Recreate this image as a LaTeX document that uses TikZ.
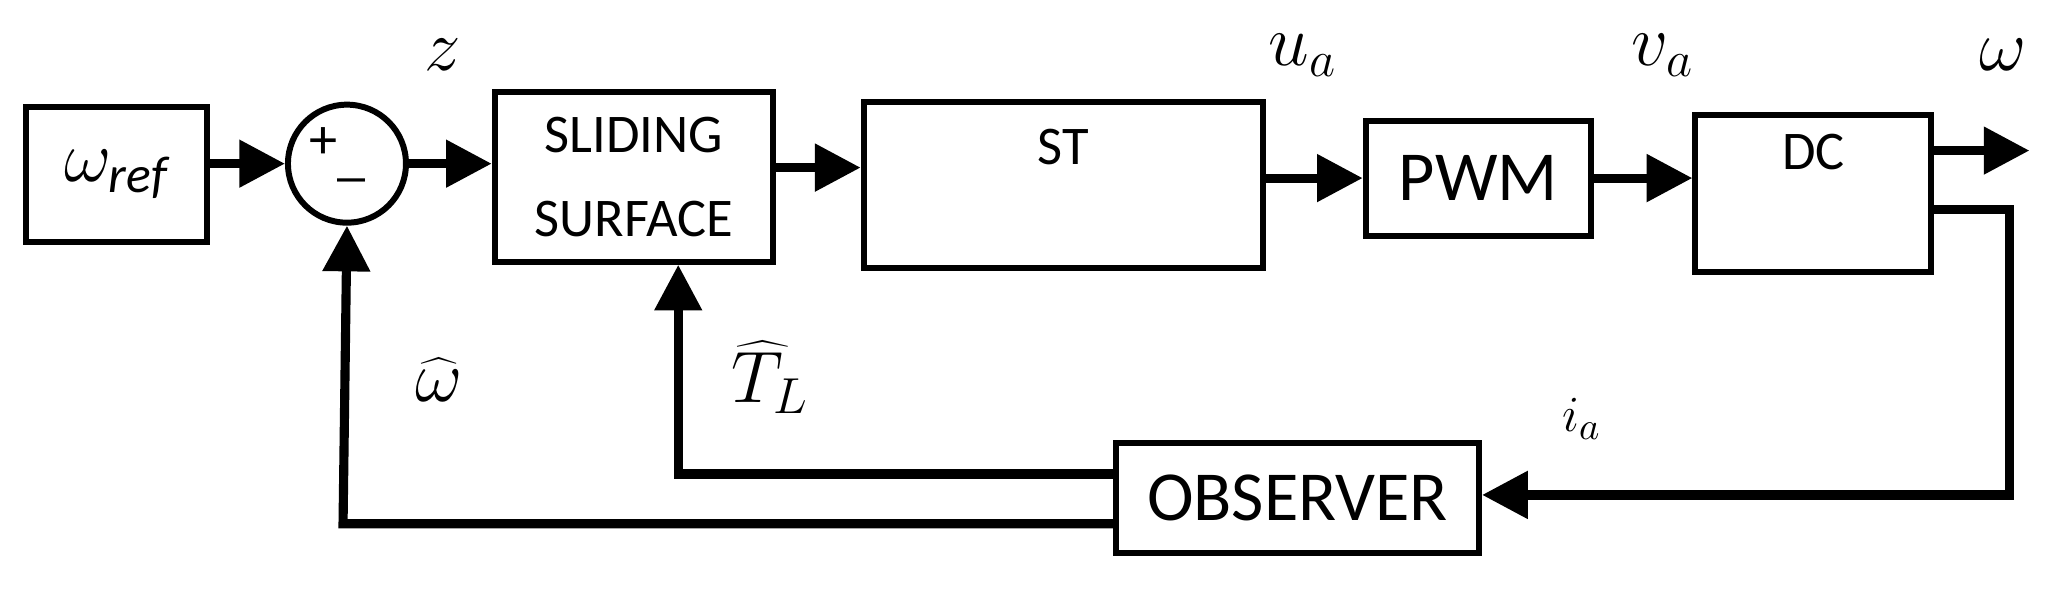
\documentclass[tikz,border=0pt]{standalone}
\usepackage{fontspec}
\setmainfont{Carlito}
\usetikzlibrary{positioning, arrows.meta}

\begin{document}
\begin{tikzpicture}[
  x=0.01309cm, y=-0.01309cm,
  block/.style={draw, line width=1.7pt, align=center, inner sep=0pt, font=\fontsize{15.5}{19}\selectfont},
  sumnode/.style={draw, circle, line width=1.7pt, minimum size=1.18cm, inner sep=0pt},
  signal/.style={line width=2.6pt, -{Triangle[length=13pt, width=13pt]}},
  lbl/.style={font=\fontsize{21}{24}\selectfont}
]
\useasboundingbox (0,0) rectangle (1568,451);

% blocks
\node[block, minimum width=1.81cm, minimum height=1.35cm, font=\fontsize{21}{24}\selectfont] (wref) at (89,133) {$\omega_{\mathit{ref}}$};
\node[sumnode] (sum) at (265,125) {};
\node[font=\fontsize{16}{16}\selectfont] at (258,118) {+\raisebox{-0.6ex}{\_}};
\node[block, minimum width=2.78cm, minimum height=1.7cm] (slide) at (484,135) {SLIDING\\[5pt]SURFACE};
\node[block, minimum width=3.99cm, minimum height=1.66cm] (st) at (812,141) {};
\node[block, minimum width=2.25cm, minimum height=1.15cm, font=\fontsize{20}{24}\selectfont] (pwm) at (1129,136) {PWM};
\node[block, minimum width=2.36cm, minimum height=1.57cm] (dc) at (1385,148) {};
\node[font=\fontsize{15.5}{19}\selectfont] at (1385,116) {DC};
\node[font=\fontsize{15.5}{19}\selectfont] at (812,112) {ST};
\node[block, minimum width=3.63cm, minimum height=1.1cm, font=\fontsize{20}{24}\selectfont] (obs) at (991,380) {OBSERVER};

% forward path
\draw[signal] (wref.east |- 0,125) -- (sum.west);
\draw[signal] (sum.east) -- (slide.west |- 0,125);
\draw[signal] (slide.east |- 0,128) -- (st.west |- 0,128);
\draw[signal] (st.east |- 0,136) -- (pwm.west);
\draw[signal] (pwm.east |- 0,136) -- (dc.west |- 0,136);
\coordinate (out) at (1550,115);
\draw[signal] (dc.east |- out) -- (out);

% feedback
\coordinate (c1) at (1535,160);
\coordinate (c2) at (1535,378);
\draw[signal] (dc.east |- c1) -- (c1) -- (c2) -- (obs.east |- c2);
\coordinate (c3) at (518,362);
\draw[signal] (obs.west |- c3) -- (c3) -- (slide.south -| c3);
\coordinate (c4) at (262,400);
\draw[signal] (obs.west |- c4) -- (c4) -- (sum.south);

% labels
\node[lbl] at (338,42) {$z$};
\node[lbl] at (995,42) {$u_a$};
\node[lbl] at (1270,42) {$v_a$};
\node[lbl] at (1530,42) {$\omega$};
\node[lbl] at (335,290) {$\widehat{\omega}$};
\node[lbl] at (588,288) {$\widehat{T}_L$};
\node[font=\fontsize{15}{18}\selectfont] at (1208,320) {$i_a$};
\end{tikzpicture}
\end{document}
